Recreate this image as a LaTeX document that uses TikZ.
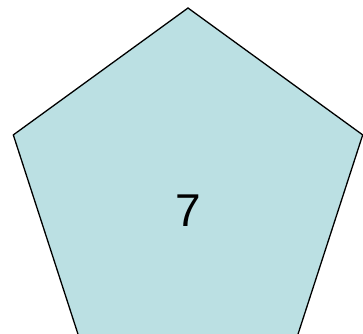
\documentclass[tikz,border=0pt]{standalone}
\usepackage{fontspec}
\setmainfont{Liberation Sans}
\definecolor{pentfill}{HTML}{BBE0E3}
\begin{document}
\begin{tikzpicture}[x=1pt,y=-1pt,
  pent/.style={fill=pentfill,draw=black,line width=1.3pt,line join=miter},
  lbl/.style={font=\fontsize{46}{46}\selectfont,inner sep=0pt}]
\useasboundingbox (0,0) rectangle (363,333);
\clip (0,0) rectangle (363,333);
\coordinate (p1) at (188,8);
\coordinate (p2) at (13.3,134.9);
\coordinate (p3) at (80,340.3);
\coordinate (p4) at (296,340.3);
\coordinate (p5) at (362.7,134.9);
\draw[pent] (p1) -- (p2) -- (p3) -- (p4) -- (p5) -- cycle;
\node[lbl] (t) at (188,211) {7};
\end{tikzpicture}
\end{document}
